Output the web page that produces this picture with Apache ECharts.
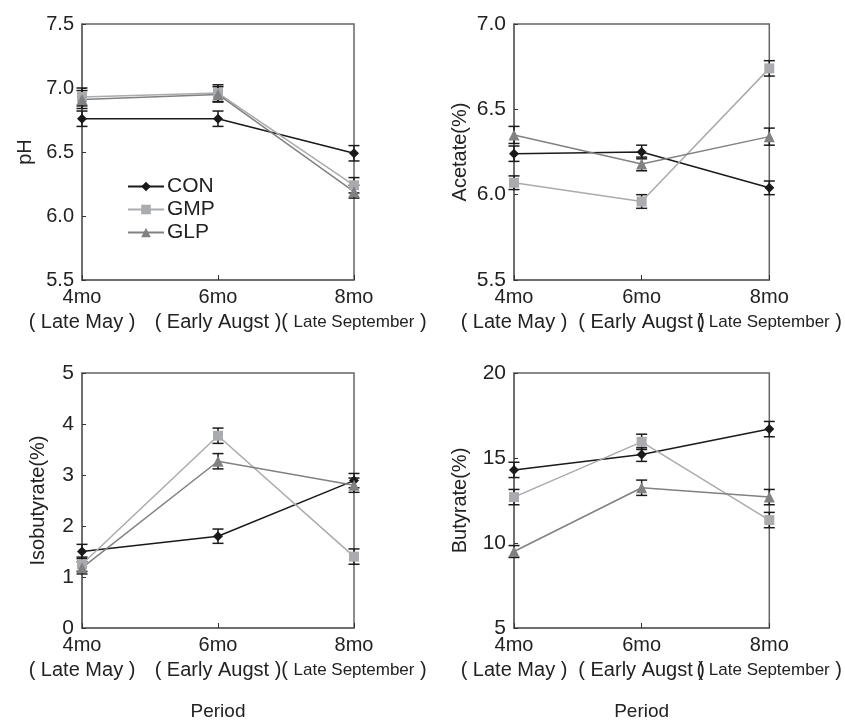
<!DOCTYPE html>
<html><head><meta charset="utf-8">
<script src="https://cdn.jsdelivr.net/npm/echarts@6/dist/echarts.min.js"></script>
<style>html,body{margin:0;padding:0;background:#fff}#c{width:845px;height:722px}</style>
</head><body><div id="c"></div>
<script>
const categories = ['4mo', '6mo', '8mo'];
const periods = ['( Late May )', '( Early Augst )', 'Late September'];
const groups = ['CON', 'GMP', 'GLP'];

const phCON = [6.76, 6.76, 6.49];
const phGMP = [6.93, 6.96, 6.24];
const phGLP = [6.91, 6.95, 6.19];
const phErrCON = [0.06, 0.06, 0.06];
const phErrGMP = [0.07, 0.065, 0.06];
const phErrGLP = [0.07, 0.06, 0.05];

const acCON = [6.24, 6.25, 6.04];
const acGMP = [6.07, 5.96, 6.74];
const acGLP = [6.35, 6.18, 6.34];
const acErrCON = [0.045, 0.04, 0.04];
const acErrGMP = [0.04, 0.04, 0.045];
const acErrGLP = [0.05, 0.04, 0.05];

const isoCON = [1.5, 1.8, 2.89];
const isoGMP = [1.25, 3.77, 1.4];
const isoGLP = [1.18, 3.27, 2.8];
const isoErrCON = [0.14, 0.14, 0.14];
const isoErrGMP = [0.14, 0.15, 0.15];
const isoErrGLP = [0.12, 0.15, 0.14];

const buCON = [14.3, 15.2, 16.7];
const buGMP = [12.7, 15.95, 11.35];
const buGLP = [9.5, 13.25, 12.7];
const buErrCON = [0.45, 0.4, 0.45];
const buErrGMP = [0.45, 0.45, 0.45];
const buErrGLP = [0.35, 0.45, 0.45];

const yTitles = ['pH', 'Acetate(%)', 'Isobutyrate(%)', 'Butyrate(%)'];
const yMin = [5.5, 5.5, 0, 5];
const yMax = [7.5, 7.0, 5, 20];
const yInterval = [0.5, 0.5, 1, 5];
const yDecimals = [1, 1, 0, 0];
const yNameGap = [47, 44, 34, 44];
const yLabelSize = [20, 21, 21, 21];

const panels = [
  {vals: [phCON, phGMP, phGLP], errs: [phErrCON, phErrGMP, phErrGLP]},
  {vals: [acCON, acGMP, acGLP], errs: [acErrCON, acErrGMP, acErrGLP]},
  {vals: [isoCON, isoGMP, isoGLP], errs: [isoErrCON, isoErrGMP, isoErrGLP]},
  {vals: [buCON, buGMP, buGLP], errs: [buErrCON, buErrGMP, buErrGLP]}
];

const grids = [
  {left: 82, top: 24, width: 272, height: 256},
  {left: 514, top: 24, width: 258, height: 256},
  {left: 82, top: 373, width: 272, height: 256},
  {left: 514, top: 373, width: 258, height: 256}
];

const lineColors = ['#1a1a1a', '#a9abae', '#808183'];
const symbols = ['diamond', 'rect', 'triangle'];
const symbolSizes = [10, 10, 11];
const axisColor = '#666';
const font = '"Liberation Sans", Arial, sans-serif';

const xAxes = grids.map((g, i) => ({
  type: 'category', gridIndex: i, data: categories, boundaryGap: false,
  axisLine: {lineStyle: {color: axisColor, width: 1.5}},
  axisTick: {inside: true, length: 5, lineStyle: {color: '#333'}},
  axisLabel: {
    margin: 5, color: '#222', fontFamily: font, fontSize: 20, interval: 0,
    formatter: (v, idx) => idx === 2
      ? '{a|' + v + '}\n{p|( }{n|' + periods[idx] + '}{p| )}'
      : '{a|' + v + '}\n{p|' + periods[idx] + '}',
    rich: {
      a: {fontSize: 20, fontFamily: font, color: '#222', lineHeight: 25},
      p: {fontSize: 20, fontFamily: font, color: '#222', lineHeight: 25},
      n: {fontSize: 17, fontFamily: font, color: '#222', lineHeight: 25}
    }
  },
  name: i >= 2 ? 'Period' : '',
  nameLocation: 'middle', nameGap: 74,
  nameTextStyle: {fontSize: 19, fontFamily: font, color: '#222'}
}));

const yAxes = grids.map((g, i) => ({
  type: 'value', gridIndex: i, min: yMin[i], max: yMax[i], interval: yInterval[i],
  name: yTitles[i], nameLocation: 'middle', nameGap: yNameGap[i], nameRotate: 90,
  nameTextStyle: {fontSize: 20, fontFamily: font, color: '#222'},
  splitLine: {show: false},
  axisLine: {show: true, lineStyle: {color: axisColor, width: 1.5}},
  axisTick: {show: true, inside: true, length: 4, lineStyle: {color: '#333'}},
  axisLabel: {margin: 8, color: '#222', fontFamily: font, fontSize: yLabelSize[i],
    formatter: v => v.toFixed(yDecimals[i])}
}));

const series = [];
panels.forEach((p, pi) => {
  p.vals.forEach((vals, gi) => {
    series.push({
      type: 'custom', xAxisIndex: pi, yAxisIndex: pi, z: 3,
      data: vals.map((v, k) => [k, v, p.errs[gi][k]]),
      renderItem: (params, api) => {
        const x = api.value(0), v = api.value(1), e = api.value(2);
        const top = api.coord([x, v + e]);
        const bot = api.coord([x, v - e]);
        const hw = 5.5;
        const st = {stroke: '#1a1a1a', lineWidth: 1.5};
        return {type: 'group', children: [
          {type: 'line', shape: {x1: top[0], y1: top[1], x2: bot[0], y2: bot[1]}, style: st},
          {type: 'line', shape: {x1: top[0] - hw, y1: top[1], x2: top[0] + hw, y2: top[1]}, style: st},
          {type: 'line', shape: {x1: bot[0] - hw, y1: bot[1], x2: bot[0] + hw, y2: bot[1]}, style: st}
        ]};
      },
      silent: true
    });
  });
  p.vals.forEach((vals, gi) => {
    series.push({
      type: 'line', name: groups[gi], xAxisIndex: pi, yAxisIndex: pi, z: 4,
      data: vals, symbol: symbols[gi], symbolSize: symbolSizes[gi], showSymbol: true,
      lineStyle: {color: lineColors[gi], width: 1.5},
      itemStyle: {color: lineColors[gi]},
      animation: false
    });
  });
});

const chart = echarts.init(document.getElementById('c'), null, {renderer: 'canvas'});
chart.setOption({
  animation: false,
  backgroundColor: '#fff',
  grid: grids.map(g => Object.assign({show: true, borderColor: axisColor, borderWidth: 1.5, backgroundColor: 'transparent'}, g)),
  xAxis: xAxes,
  yAxis: yAxes,
  legend: {
    data: groups, orient: 'vertical', left: 127, top: 175, padding: 0,
    itemWidth: 36, itemHeight: 12, itemGap: 0,
    textStyle: {fontSize: 21, lineHeight: 23, fontFamily: font, color: '#222', padding: [0, 0, 0, -2]}
  },
  series: series
});
</script></body></html>
